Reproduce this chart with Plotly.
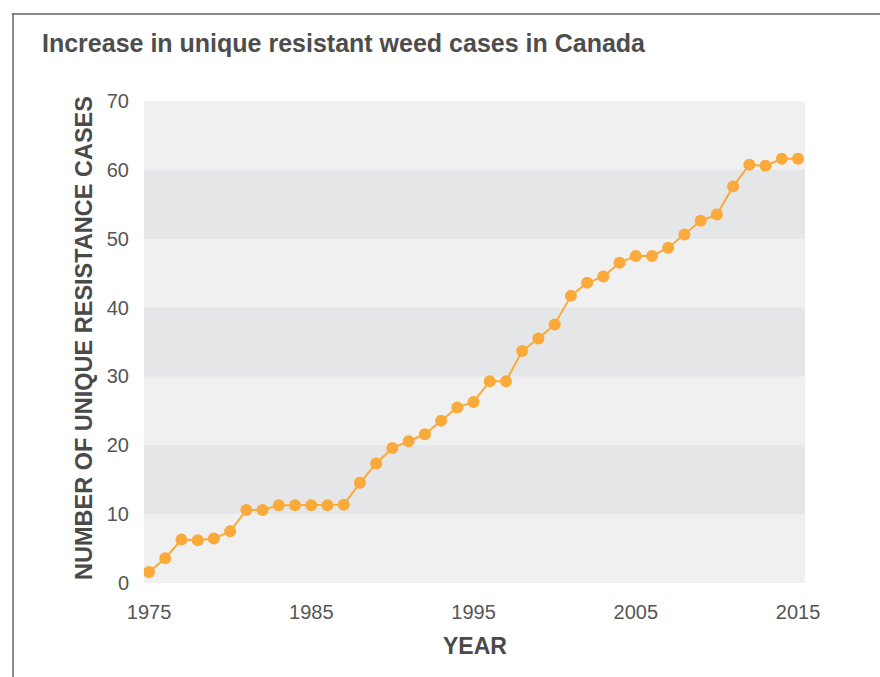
import plotly.graph_objects as go

# Unique herbicide-resistant weed cases recorded in Canada, by year
years = list(range(1975, 2016))
cases = [
    1.6, 3.6, 6.3, 6.2, 6.45, 7.5, 10.6, 10.6, 11.3, 11.3,
    11.3, 11.3, 11.35, 14.55, 17.35, 19.6, 20.6, 21.6, 23.55, 25.5,
    26.3, 29.3, 29.3, 33.7, 35.5, 37.55, 41.7, 43.6, 44.5, 46.5,
    47.5, 47.5, 48.7, 50.6, 52.6, 53.5, 57.6, 60.75, 60.6, 61.6,
    61.6,
]
x_ticks = [1975, 1985, 1995, 2005, 2015]
y_ticks = [0, 10, 20, 30, 40, 50, 60, 70]
band_ranges = [(10, 20), (30, 40), (50, 60)]

title_text = "Increase in unique resistant weed cases in Canada"
x_title = "YEAR"
y_title = "NUMBER OF UNIQUE RESISTANCE CASES"

W, H = 880, 677
L, R, T, B = 144, 75, 101, 94
pw, ph = W - L - R, H - T - B

def px_x(px):
    return (px - L) / pw

def px_y(py):
    return (H - B - py) / ph

FONT = "Arial, Liberation Sans, sans-serif"
ORANGE = "#FAAA3B"

fig = go.Figure()
fig.add_trace(go.Scatter(
    x=years, y=cases, mode="lines+markers",
    line=dict(color=ORANGE, width=2),
    marker=dict(color=ORANGE, size=12),
    hoverinfo="x+y", showlegend=False,
))

shapes = []
for lo, hi in band_ranges:
    shapes.append(dict(type="rect", xref="paper", yref="y", x0=0, x1=1,
                       y0=lo, y1=hi, fillcolor="#E5E6E7", line_width=0,
                       layer="below"))
# outer frame lines (top and left)
shapes.append(dict(type="line", xref="paper", yref="paper",
                   x0=px_x(12), x1=px_x(W + 5), y0=px_y(14), y1=px_y(14),
                   line=dict(color="#8A8A8A", width=2)))
shapes.append(dict(type="line", xref="paper", yref="paper",
                   x0=px_x(13), x1=px_x(13), y0=px_y(13), y1=px_y(H + 5),
                   line=dict(color="#666666", width=1.5)))

annotations = [
    dict(text=f"<b>{title_text}</b>", xref="paper", yref="paper",
         x=px_x(40), y=px_y(43), xanchor="left", yanchor="middle",
         showarrow=False, font=dict(family=FONT, size=25, color="#4D4D4D")),
    dict(text=f"<b>{x_title}</b>", xref="paper", yref="paper",
         x=0.5, y=px_y(646), xanchor="center", yanchor="middle",
         showarrow=False, font=dict(family=FONT, size=23, color="#4A4A4A")),
    dict(text=f"<b>{y_title}</b>", xref="paper", yref="paper",
         x=px_x(84), y=px_y(338), xanchor="center", yanchor="middle",
         textangle=-90, showarrow=False,
         font=dict(family=FONT, size=23.5, color="#4A4A4A")),
]

fig.update_layout(
    width=W, height=H,
    margin=dict(l=L, r=R, t=T, b=B, pad=0),
    paper_bgcolor="white", plot_bgcolor="#F0F0F0",
    shapes=shapes, annotations=annotations,
    font=dict(family=FONT, size=20, color="#555555"),
    xaxis=dict(range=[1974.69, 2015.43], tickvals=x_ticks,
               ticktext=[str(v) for v in x_ticks], showgrid=False,
               zeroline=False, showline=False, ticks="",
               ticklabelstandoff=15, tickfont=dict(size=20, color="#555555")),
    yaxis=dict(range=[0, 70], tickvals=y_ticks, showgrid=False,
               zeroline=False, showline=False, ticks="",
               ticklabelstandoff=14, tickfont=dict(size=20, color="#555555")),
)

fig.write_html("out.html")
